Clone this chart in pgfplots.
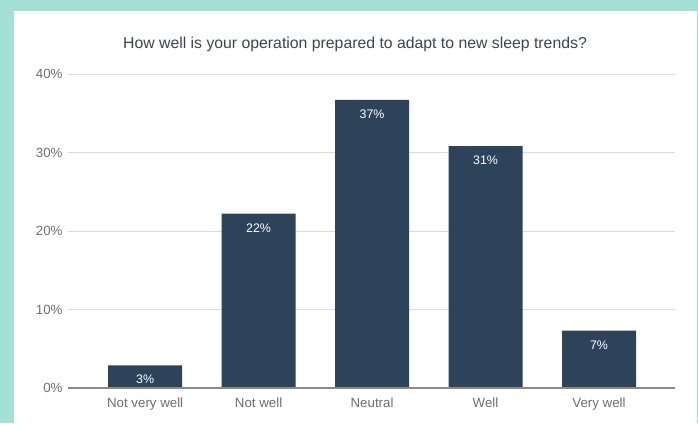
\documentclass[border=0pt]{standalone}
\usepackage{pgfplots}
\pgfplotsset{compat=1.18}
\usepackage{fontspec}
\setmainfont{Liberation Sans}
\definecolor{frame}{HTML}{A3E0D6}
\definecolor{bar}{HTML}{2D4359}
\definecolor{titlec}{HTML}{3C4650}
\definecolor{tickc}{HTML}{6E6E6E}
\definecolor{gridc}{HTML}{DADADA}
\definecolor{axisc}{HTML}{8A8A8A}
\begin{document}
\begin{tikzpicture}[x=1bp,y=1bp]
\fill[frame] (0,0) rectangle (698,-423);
\fill[white] (14,-11) rectangle (696.5,-423);
\node[text=titlec,font=\fontsize{15.8bp}{18bp}\selectfont] at (355,-44) {How well is your operation prepared to adapt to new sleep trends?};
\begin{axis}[
  at={(68bp,-388bp)}, anchor=south west,
  scale only axis, width=607bp, height=314bp,
  xmin=-0.68, xmax=4.67, ymin=0, ymax=40,
  ybar, bar width=74bp,
  axis line style={draw=none},
  axis x line*=bottom,
  ytick={0,10,20,30,40},
  yticklabel={\pgfmathprintnumber{\tick}\%},
  /pgf/number format/assume math mode=true,
  ymajorgrids, grid style={gridc, line width=0.8pt},
  major tick length=0pt,
  xtick={0,1,2,3,4},
  xticklabels={Not very well,Not well,Neutral,Well,Very well},
  tick label style={text=tickc, font=\fontsize{13.3bp}{15bp}\selectfont},
  yticklabel style={xshift=-2bp},
  xticklabel style={yshift=-6.5bp},
  point meta=explicit,
  nodes near coords={\pgfmathprintnumber{\pgfplotspointmeta}\%},
  nodes near coords style={text=white, anchor=north, yshift=-6.5bp, font=\fontsize{12.4bp}{14bp}\selectfont},
  clip=false,
]
\addplot[fill=bar, draw=none] coordinates {(0,2.9) [3] (1,22.2) [22] (2,36.7) [37] (3,30.8) [31] (4,7.3) [7]};
\draw[axisc, line width=1.2pt] (axis cs:-0.68,0) -- (axis cs:4.67,0);
\end{axis}
\end{tikzpicture}
\end{document}
